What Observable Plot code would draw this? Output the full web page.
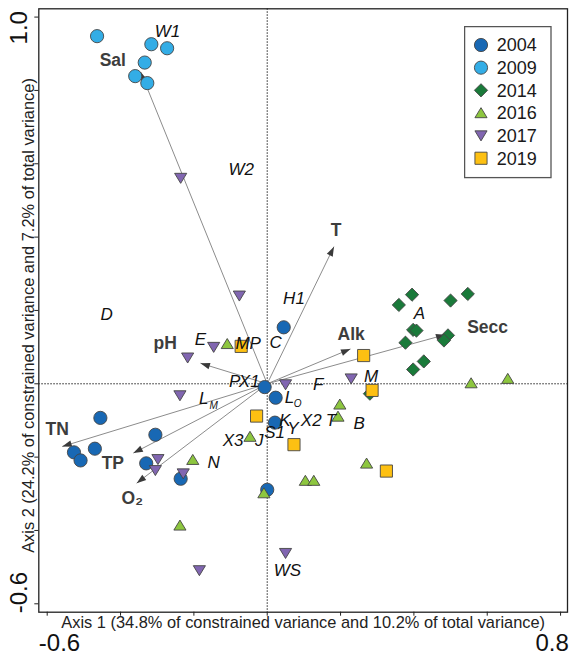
<!DOCTYPE html>
<html><head><meta charset="utf-8">
<script src="https://cdn.jsdelivr.net/npm/d3@7"></script>
<script src="https://cdn.jsdelivr.net/npm/@observablehq/plot@0.6"></script>
<style>
body{margin:0;background:#fff;font-family:"Liberation Sans",Arial,sans-serif;}
#wrap{position:relative;width:569px;height:656px;}
#legend{position:absolute;left:464px;top:26px;}
</style></head><body><div id="wrap"></div>
<script>
// ---- data ----
const years = ["2004","2009","2014","2016","2017","2019"];
const p2004 = [[0.045,0.154],[-0.007,-0.009],[0.023,-0.038],[-0.455,-0.093],[-0.305,-0.139],[-0.470,-0.177],[-0.527,-0.187],[-0.509,-0.209],[-0.330,-0.217],[-0.236,-0.259],[0.021,-0.106],[0.000,-0.289]];
const p2009 = [[-0.464,0.948],[-0.316,0.926],[-0.273,0.915],[-0.334,0.876],[-0.360,0.839],[-0.327,0.820]];
const p2014 = [[0.359,0.215],[0.395,0.243],[0.500,0.227],[0.547,0.245],[0.398,0.147],[0.407,0.145],[0.377,0.112],[0.493,0.132],[0.482,0.118],[0.398,0.039],[0.427,0.061],[0.280,-0.027]];
const p2016 = [[-0.109,0.109],[0.556,0.002],[0.656,0.014],[0.198,-0.056],[0.193,-0.089],[-0.047,-0.144],[-0.203,-0.207],[-0.009,-0.298],[-0.238,-0.386],[0.271,-0.217],[0.104,-0.264],[0.127,-0.264]];
const p2017 = [[-0.236,0.561],[-0.076,0.240],[-0.146,0.100],[-0.217,0.071],[-0.238,-0.032],[0.050,-0.002],[0.229,0.014],[-0.298,-0.206],[-0.305,-0.236],[-0.229,-0.245],[-0.185,-0.509],[0.050,-0.462]];
const p2019 = [[-0.071,0.102],[0.263,0.077],[0.286,-0.018],[-0.029,-0.088],[0.073,-0.166],[0.325,-0.238]];

const envNames = ["Sal","T","Alk","Secc","pH","TN","TP","O₂"];
const envX = [-0.345,0.182,0.227,0.486,-0.182,-0.559,-0.365,-0.356];
const envY = [0.850,0.374,0.095,0.134,0.056,-0.171,-0.189,-0.271];
const envLabelX = [-0.421,0.188,0.229,0.601,-0.278,-0.573,-0.421,-0.368];
const envLabelY = [0.881,0.419,0.135,0.154,0.109,-0.125,-0.218,-0.313];

const spNames = ["W1","W2","D","E","MP","C","H1","A","P","X1","F","M","L","L","K","Y","X2","T","B","X3","J","S1","N","WS"];
const spX = [-0.272,-0.071,-0.438,-0.182,-0.052,0.023,0.073,0.415,-0.089,-0.049,0.139,0.283,-0.173,0.061,0.048,0.070,0.120,0.174,0.251,-0.093,-0.022,0.020,-0.146,0.055];
const spY = [0.961,0.584,0.188,0.120,0.111,0.113,0.232,0.191,0.005,0.007,-0.001,0.021,-0.039,-0.037,-0.099,-0.123,-0.099,-0.100,-0.108,-0.154,-0.155,-0.134,-0.214,-0.509];
const subNames = ["M","O"];
const subX = [-0.146,0.083];
const subY = [-0.059,-0.055];

const xTickValues = [-0.6,-0.4,-0.2,0,0.2,0.4,0.6,0.8];
const yTickValues = [-0.6,-0.4,-0.2,0,0.2,0.4,0.6,0.8,1.0];
const xLabelLow = [-0.6], xLabelHigh = [0.8];
const yLabelLow = [-0.6], yLabelHigh = [1.0];
const xTitle = "Axis 1 (34.8% of constrained variance and 10.2% of total variance)";
const yTitle = "Axis 2 (24.2% of constrained variance and 7.2% of total variance)";

// ---- styles ----
const colors = ["#1868b4","#33ade6","#1a7a3a","#8dc63f","#8166b1","#fdc012"];
const rad = s => Math.sqrt(s/Math.PI);
const symCircle = {draw(c,s){const r=rad(s);c.moveTo(r,0);c.arc(0,0,r,0,2*Math.PI);}};
const symDiamond = {draw(c,s){const r=rad(s)*1.0;c.moveTo(0,-r);c.lineTo(r,0);c.lineTo(0,r);c.lineTo(-r,0);c.closePath();}};
const symTriUp = {draw(c,s){const r=rad(s);c.moveTo(0,-0.8*r);c.lineTo(0.92*r,0.72*r);c.lineTo(-0.92*r,0.72*r);c.closePath();}};
const symTriDown = {draw(c,s){const r=rad(s);c.moveTo(0,0.8*r);c.lineTo(0.92*r,-0.72*r);c.lineTo(-0.92*r,-0.72*r);c.closePath();}};
const symSquare = {draw(c,s){const r=rad(s)*0.92;c.rect(-r,-r,2*r,2*r);}};
const shapes = [symCircle,symCircle,symDiamond,symTriUp,symTriDown,symSquare];
const series = [p2004,p2009,p2014,p2016,p2017,p2019];

const env = envNames.map((n,i)=>({name:n,x:envX[i],y:envY[i],lx:envLabelX[i],ly:envLabelY[i]}));
const species = spNames.map((n,i)=>({name:n,x:spX[i],y:spY[i]}));
const subs = subNames.map((n,i)=>({name:n,x:subX[i],y:subY[i]}));

const arrowHead = (color, context) => {
  const m = d3.create("svg:marker")
    .attr("viewBox","-10 -5 10 10")
    .attr("markerUnits","userSpaceOnUse")
    .attr("markerWidth",10).attr("markerHeight",10)
    .attr("refX",0).attr("refY",0)
    .attr("orient","auto")
    .attr("overflow","visible");
  m.append("path").attr("d","M-9.5,-3.3L0,0L-9.5,3.3Z").attr("fill","#3a3a3a").attr("stroke","none");
  return m.node();
};

const fmt = d => d.toFixed(1);
const font = "Liberation Sans, Arial, sans-serif";

const chart = Plot.plot({
  width:569, height:656,
  marginLeft:38.3, marginRight:2, marginTop:8.3, marginBottom:44.3,
  x:{domain:[-0.6229,0.8189], axis:null},
  y:{domain:[-0.6229,1.0226], axis:null},
  style:{fontFamily:font, background:"white", overflow:"visible"},
  marks:[
    Plot.ruleX([0],{stroke:"#222",strokeWidth:1,strokeDasharray:"1.5,1.5"}),
    Plot.ruleY([0],{stroke:"#222",strokeWidth:1,strokeDasharray:"1.5,1.5"}),
    Plot.link(env,{x1:()=>0,y1:()=>0,x2:"x",y2:"y",stroke:"#8c8c8c",strokeWidth:1,markerEnd:arrowHead}),
    ...series.map((s,i)=>Plot.dot(s,{x:d=>d[0],y:d=>d[1],r:6.6,symbol:shapes[i],fill:colors[i],stroke:"#454545",strokeWidth:0.9})),
    Plot.text(env,{x:"lx",y:"ly",text:"name",fontSize:17.5,fontWeight:"bold",fill:"#3d3d3d"}),
    Plot.text(species,{x:"x",y:"y",text:"name",fontSize:17,fontStyle:"italic",fill:"#111"}),
    Plot.text(subs,{x:"x",y:"y",text:"name",fontSize:10,fontStyle:"italic",fill:"#111"}),
    Plot.frame({stroke:"#222",strokeWidth:1.3}),
    Plot.axisX(xTickValues,{tickSize:4,tickFormat:()=>"",label:null,stroke:"#222"}),
    Plot.axisY(yTickValues,{tickSize:4,tickFormat:()=>"",label:null,stroke:"#222"}),
    Plot.axisX(xLabelLow,{tickSize:0,tickPadding:22,fontSize:24,textAnchor:"start",dx:-8.4,tickFormat:fmt,label:null,fill:"#111"}),
    Plot.axisX(xLabelHigh,{tickSize:0,tickPadding:22,fontSize:24,textAnchor:"end",dx:8.3,tickFormat:fmt,label:null,fill:"#111"}),
    Plot.axisY(yLabelHigh,{tickSize:0,tickRotate:-90,tickPadding:12,fontSize:24,textAnchor:"end",dy:-6,tickFormat:fmt,label:null,fill:"#111"}),
    Plot.axisY(yLabelLow,{tickSize:0,tickRotate:-90,tickPadding:12,fontSize:24,textAnchor:"start",dy:9.5,tickFormat:fmt,label:null,fill:"#111"}),
    Plot.text([xTitle],{frameAnchor:"bottom",textAnchor:"middle",lineAnchor:"middle",dy:11,fontSize:16.4,fill:"#222"}),
    Plot.text([yTitle],{frameAnchor:"left",textAnchor:"middle",lineAnchor:"middle",rotate:-90,dx:-10,dy:5,fontSize:16.4,fill:"#222"})
  ]
});
document.getElementById("wrap").appendChild(chart);

// legend
const leg = d3.select("#wrap").append("svg").attr("id","legend").attr("width",90).attr("height",155);
leg.append("rect").attr("x",0.6).attr("y",0.6).attr("width",86.4).attr("height",151).attr("fill","white").attr("stroke","#555").attr("stroke-width",1.3);
years.forEach((yr,i)=>{
  const cy = 19 + i*22.65;
  leg.append("path").attr("transform",`translate(17,${cy})`)
    .attr("d", d3.symbol().type(shapes[i]).size(6.6*6.6*Math.PI)())
    .attr("fill",colors[i]).attr("stroke","#454545").attr("stroke-width",0.9);
  leg.append("text").attr("x",32.7).attr("y",cy).attr("dy","0.36em")
    .style("font-family",font).style("font-size","18px").attr("fill","#1a1a1a").text(yr);
});
</script></body></html>
